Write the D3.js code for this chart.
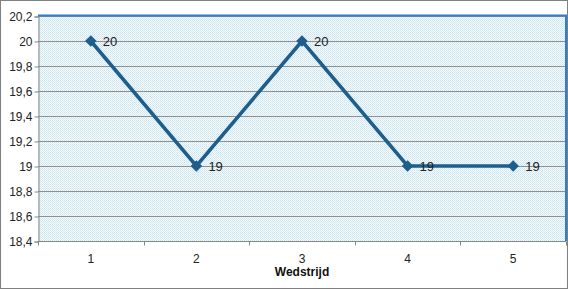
<!DOCTYPE html>
<html>
<head>
<meta charset="utf-8">
<script src="https://cdn.jsdelivr.net/npm/d3@7"></script>
<style>
body { margin: 0; background: #fff; }
</style>
</head>
<body>
<div id="canvas"></div>
<script>
/* chart data */
let matches = ["1", "2", "3", "4", "5"];
let scores = [20, 19, 20, 19, 19];
let yTicks = [18.4, 18.6, 18.8, 19, 19.2, 19.4, 19.6, 19.8, 20, 20.2];
let xTitle = "Wedstrijd";

/* drawing config */
let svgWidth = 568;
let svgHeight = 289;
let plot = { left: 38, right: 566, top: 16, bottom: 241 };

let svg = d3.select("#canvas")
    .append("svg")
    .attr("width", svgWidth)
    .attr("height", svgHeight);

// dotted fill like the excel plot area
let defs = svg.append("defs");
let pat = defs.append("pattern")
    .attr("id", "dots")
    .attr("width", 2).attr("height", 2)
    .attr("patternUnits", "userSpaceOnUse");
pat.append("rect").attr("width", 2).attr("height", 2).attr("fill", "#f8f8fd");
pat.append("rect").attr("width", 1).attr("height", 1).attr("fill", "#c6e7ef");
pat.append("rect").attr("x", 1).attr("y", 1).attr("width", 1).attr("height", 1).attr("fill", "#d2ecf2");

let xScale = d3.scaleBand()
    .domain(matches)
    .range([plot.left, plot.right]);

let yScale = d3.scaleLinear()
    .domain([18.4, 20.2])
    .range([plot.bottom, plot.top]);

let fmt = d => String(+d.toFixed(1)).replace(".", ",");

// plot background
svg.append("rect")
    .attr("x", plot.left).attr("y", plot.top)
    .attr("width", plot.right - plot.left)
    .attr("height", plot.bottom - plot.top)
    .attr("fill", "url(#dots)");

// gridlines
svg.selectAll(".grid")
    .data(yTicks.slice(1))
    .enter()
    .append("line")
    .attr("x1", plot.left).attr("x2", plot.right)
    .attr("y1", d => Math.round(yScale(d)) + 0.5)
    .attr("y2", d => Math.round(yScale(d)) + 0.5)
    .attr("stroke", "#8f8f8f").attr("stroke-width", 1);

// blue top and right border
svg.append("path")
    .attr("d", `M${plot.left},${plot.top - 0.5} H${plot.right} V${plot.bottom}`)
    .attr("fill", "none")
    .attr("stroke", "#2a7fd0").attr("stroke-width", 2);

// y axis
let yAxis = d3.axisLeft(yScale)
    .tickValues(yTicks)
    .tickSize(4)
    .tickFormat(fmt);
let gy = svg.append("g")
    .attr("transform", `translate(${plot.left + 0.5},0.5)`)
    .call(yAxis);
gy.select(".domain").attr("stroke", "#868686");
gy.selectAll(".tick line").attr("stroke", "#868686");
gy.selectAll("text")
    .attr("font-family", "Liberation Sans, Arial, sans-serif")
    .attr("font-size", 12)
    .attr("fill", "#222")
    .attr("x", -6);

// x axis with ticks between categories
let gx = svg.append("g")
    .attr("transform", `translate(0,${plot.bottom + 0.5})`);
gx.append("line")
    .attr("x1", plot.left).attr("x2", plot.right)
    .attr("stroke", "#868686");
let bounds = matches.map(m => xScale(m)).concat([plot.right]);
gx.selectAll(".xt")
    .data(bounds)
    .enter()
    .append("line")
    .attr("x1", d => Math.round(d) + 0.5).attr("x2", d => Math.round(d) + 0.5)
    .attr("y1", 0).attr("y2", 4)
    .attr("stroke", "#868686");
gx.selectAll(".xl")
    .data(matches)
    .enter()
    .append("text")
    .attr("x", d => xScale(d) + xScale.bandwidth() / 2)
    .attr("y", 21)
    .attr("text-anchor", "middle")
    .attr("font-family", "Liberation Sans, Arial, sans-serif")
    .attr("font-size", 12)
    .attr("fill", "#222")
    .text(d => d);

svg.append("text")
    .attr("x", xScale("3") + xScale.bandwidth() / 2)
    .attr("y", 276)
    .attr("text-anchor", "middle")
    .attr("font-family", "Liberation Sans, Arial, sans-serif")
    .attr("font-size", 12)
    .attr("font-weight", "bold")
    .attr("fill", "#111")
    .text(xTitle);

// the line
let points = matches.map((m, i) => ({ m: m, v: scores[i] }));
let line = d3.line()
    .x(d => xScale(d.m) + xScale.bandwidth() / 2)
    .y(d => yScale(d.v));

svg.append("path")
    .datum(points)
    .attr("d", line)
    .attr("fill", "none")
    .attr("stroke", "#1d5f8a")
    .attr("stroke-width", 3.5)
    .attr("stroke-linejoin", "miter");

let diamond = d3.symbol().type(d3.symbolDiamond2).size(85);
svg.selectAll(".pt")
    .data(points)
    .enter()
    .append("path")
    .attr("d", diamond)
    .attr("transform", d => `translate(${xScale(d.m) + xScale.bandwidth() / 2},${yScale(d.v)})`)
    .attr("fill", "#1d5f8a");

svg.selectAll(".lbl")
    .data(points)
    .enter()
    .append("text")
    .attr("x", d => xScale(d.m) + xScale.bandwidth() / 2 + 12)
    .attr("y", d => yScale(d.v) + 5)
    .attr("font-family", "Liberation Sans, Arial, sans-serif")
    .attr("font-size", 13)
    .attr("fill", "#222")
    .text(d => d.v);

// dotted outer frame
svg.append("rect")
    .attr("x", 0.5).attr("y", 0.5)
    .attr("width", svgWidth - 1).attr("height", svgHeight - 1)
    .attr("fill", "none")
    .attr("stroke", "#000")
    .attr("stroke-dasharray", "1,1");
</script>
</body>
</html>
